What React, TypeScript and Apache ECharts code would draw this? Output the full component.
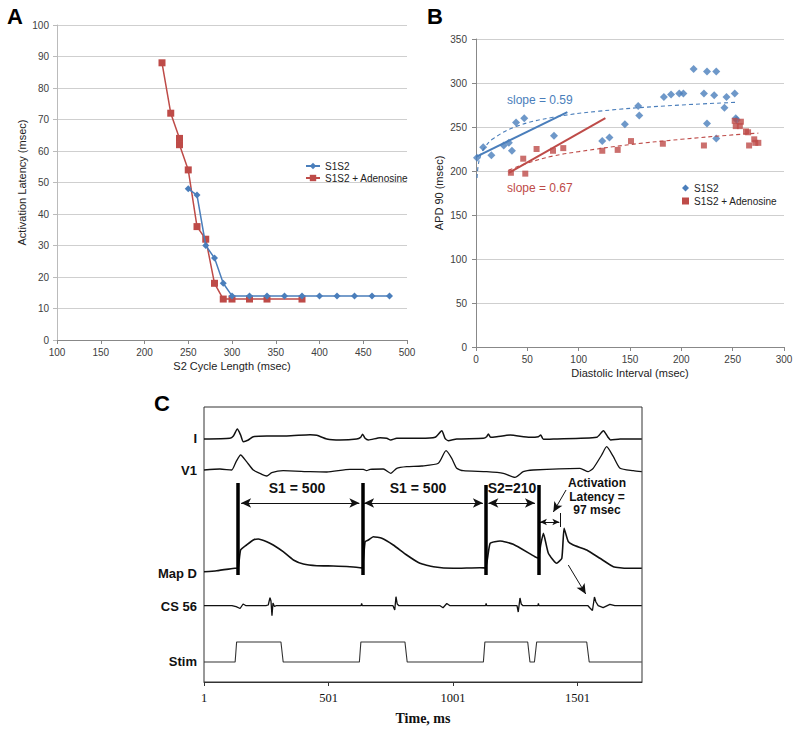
import React, { useEffect, useRef } from "react";
import * as echarts from "echarts";

// ---------- Panel A ----------
const s1s2CycleLength = [250, 260, 270, 280, 290, 300, 320, 340, 360, 380, 400, 420, 440, 460, 480];
const s1s2Latency = [48, 46, 30, 26, 18, 14, 14, 14, 14, 14, 14, 14, 14, 14, 14];
const adenoCycleLength = [220, 230, 240, 240, 250, 260, 270, 280, 290, 300, 320, 340, 380];
const adenoLatency = [88, 72, 64, 62, 54, 36, 32, 18, 13, 13, 13, 13, 13];

// ---------- Panel B ----------
const s1s2DI = [1, 7, 15, 27, 32, 35, 39, 47, 76, 123, 130, 145, 158, 159, 183, 190, 198, 202, 212, 222, 225, 225, 232, 234, 234, 242, 244, 252, 253, 254];
const s1s2APD = [215, 227, 218, 229, 232, 223, 255, 260, 240, 234, 238, 253, 274, 263, 284, 287, 288, 288, 316, 288, 313, 254, 286, 313, 237, 272, 284, 288, 260, 258];
const adenoDI = [34, 46, 48, 59, 75, 85, 123, 138, 151, 182, 222, 252, 253, 257, 258, 263, 265, 266, 271, 272, 275];
const adenoAPD = [198, 214, 197, 225, 223, 226, 223, 224, 234, 231, 229, 257, 251, 251, 256, 245, 244, 229, 236, 232, 232];
const s1s2SlopeLine = [[0, 216], [89, 267]];
const adenoSlopeLine = [[32, 198], [126, 260]];
const s1s2Trend = [[1, 192], [2, 205], [4, 216], [8, 226], [17, 237], [40, 251], [75, 261], [120, 268], [185, 274], [253, 278]];
const adenoTrend = [[32, 201], [50, 209], [75, 217], [100, 222], [150, 230], [200, 236], [250, 241], [275, 243]];

// ---------- Panel C (time ms from first sample, trace level) ----------
const traceI = [[0, 243], [104, 243.7], [118, 246], [134, 253], [147, 247], [158, 240.3], [178, 242], [198, 245.3], [252, 246], [332, 246], [426, 247.3], [453, 246.7], [493, 243], [546, 242], [613, 243], [629, 244.7], [637, 247.7], [647, 243.7], [660, 242], [707, 244.3], [734, 243.7], [750, 242], [774, 243.7], [867, 243.7], [928, 244.7], [955, 251.3], [968, 243.7], [981, 241.3], [1015, 243], [1122, 243.7], [1135, 245.3], [1142, 248], [1151, 244.7], [1176, 245.3], [1229, 247], [1309, 244.7], [1343, 245.3], [1352, 247], [1363, 242.7], [1403, 243], [1577, 244.7], [1604, 251.3], [1621, 245.3], [1633, 242], [1671, 243], [1758, 243]];
const traceV1 = [[0, 212], [64, 213], [111, 212], [129, 220.3], [147, 227], [171, 220.3], [198, 212], [232, 207.7], [252, 206], [272, 209.3], [318, 211.3], [426, 210.3], [493, 210], [586, 212.7], [640, 212.7], [653, 211.3], [667, 212.7], [720, 213], [750, 208.7], [774, 213.7], [814, 215.3], [874, 216], [941, 218.7], [972, 231.3], [995, 223.7], [1015, 213.7], [1041, 211.3], [1135, 210.3], [1202, 208.7], [1249, 204.7], [1282, 210.3], [1322, 212], [1510, 213.7], [1543, 210.3], [1563, 213.7], [1597, 227], [1617, 235.3], [1644, 225.3], [1671, 213.7], [1724, 211.3], [1758, 210.3]];
const traceMapD = [[0, 110.3], [51, 111.3], [124, 113.7], [137, 114], [147, 132], [171, 137], [198, 142], [218, 143], [252, 140.3], [278, 137], [318, 130.3], [359, 122], [399, 118], [453, 116.3], [519, 116], [586, 115.3], [627, 114.3], [636, 114], [647, 140.3], [660, 142], [680, 145.3], [714, 143.7], [760, 137], [814, 127], [867, 118.7], [921, 115.3], [1001, 113.7], [1108, 114.3], [1131, 114], [1149, 138.7], [1189, 141], [1242, 137.7], [1329, 125.3], [1343, 124], [1352, 137], [1363, 148.7], [1383, 128.7], [1416, 118.7], [1437, 123.7], [1446, 153.7], [1463, 140.3], [1483, 137], [1537, 132], [1590, 123.7], [1644, 115.3], [1698, 113.7], [1758, 113.7]];
const traceCS56 = [[0, 76.3], [112, 76.3], [129, 75.3], [145, 73.5], [157, 78], [169, 76.3], [249, 76.3], [258, 77], [265, 84.3], [269, 81], [273, 66.3], [277, 79], [283, 75.5], [289, 76.3], [631, 76.3], [633, 78.5], [636, 76.3], [759, 76.3], [766, 72], [771, 85.3], [776, 78], [783, 76.3], [948, 76.3], [960, 74.3], [975, 78.5], [988, 76.3], [1131, 76.3], [1133, 78.5], [1135, 76.3], [1257, 76.3], [1262, 70], [1269, 84], [1274, 78], [1281, 76.3], [1341, 76.3], [1343, 78.5], [1345, 76.3], [1542, 76.3], [1550, 74], [1560, 71.5], [1568, 85], [1574, 80], [1583, 76.3], [1603, 74.3], [1630, 77.7], [1650, 76.3], [1758, 76.3]];
const traceStim = [[0, 20], [125, 20], [131, 40], [309, 40], [318, 20], [624, 20], [630, 40], [807, 40], [816, 20], [1122, 20], [1128, 40], [1300, 40], [1309, 20], [1327, 20], [1336, 40], [1537, 40], [1547, 20], [1758, 20]];
const artifactTimes = [137, 636, 1131, 1343];
const artifactTops = [199, 199, 197, 197];
const artifactBottom = 107;
const cTickLabels = ["1", "501", "1001", "1501"];

const SANS = '"Liberation Sans", Arial, sans-serif';
const SERIF = '"Liberation Serif", "Times New Roman", serif';
const BLUE = "#4A7EBB";
const RED = "#BE4B48";

function zip(xs: number[], ys: number[]) {
  return xs.map((x, i) => [x, ys[i]]);
}

export default function App() {
  const ref = useRef<HTMLDivElement>(null);
  useEffect(() => {
    if (!ref.current) return;
    const chart = echarts.init(ref.current, undefined, { renderer: "svg" });
    const tickLbl = { fontFamily: SANS, fontSize: 10, color: "#404040" };
    const axisName = { fontFamily: SANS, fontSize: 11, color: "#222" };
    const arrow = (a: number[], b: number[], both: boolean, size?: number[]) => [
      { coord: a, symbol: both ? "arrow" : "none", symbolSize: size || [7, 10] },
      { coord: b, symbol: "arrow", symbolSize: size || [7, 10] },
    ];
    const option: any = {
      animation: false,
      textStyle: { fontFamily: SANS },
      grid: [
        { left: 57, top: 25, width: 350, height: 315 },
        { left: 476, top: 39, width: 308, height: 308 },
        { left: 204, top: 407, width: 438, height: 275, show: true, borderColor: "#333", borderWidth: 1, backgroundColor: "transparent" },
      ],
      xAxis: [
        {
          type: "value", gridIndex: 0, min: 100, max: 500, interval: 50,
          name: "S2 Cycle Length (msec)", nameLocation: "middle", nameGap: 20, nameTextStyle: axisName,
          axisLine: { show: true, lineStyle: { color: "#888" } },
          axisTick: { show: true, length: 4, lineStyle: { color: "#888" } },
          axisLabel: { ...tickLbl, margin: 7 }, splitLine: { show: false },
        },
        {
          type: "value", gridIndex: 1, min: 0, max: 300, interval: 50,
          name: "Diastolic Interval (msec)", nameLocation: "middle", nameGap: 20, nameTextStyle: axisName,
          axisLine: { show: true, lineStyle: { color: "#888" } },
          axisTick: { show: true, length: 4, lineStyle: { color: "#888" } },
          axisLabel: { ...tickLbl, margin: 7 }, splitLine: { show: false },
        },
        {
          type: "value", gridIndex: 2, min: 0, max: 1759, interval: 500,
          name: "Time, ms", nameLocation: "middle", nameGap: 29,
          nameTextStyle: { fontFamily: SERIF, fontSize: 14, fontWeight: "bold", color: "#111" },
          axisLine: { show: true, lineStyle: { color: "#333" } },
          axisTick: { show: true, length: 4, lineStyle: { color: "#333" } },
          axisLabel: {
            fontFamily: SERIF, fontSize: 12.5, color: "#111", margin: 9, showMaxLabel: false,
            formatter: (v: number) => cTickLabels[Math.round(v / 500)] ?? "",
          },
          splitLine: { show: false },
        },
      ],
      yAxis: [
        {
          type: "value", gridIndex: 0, min: 0, max: 100, interval: 10,
          name: "Activation Latency (msec)", nameLocation: "middle", nameGap: 30, nameTextStyle: axisName,
          axisLine: { show: true, lineStyle: { color: "#bbb" } },
          axisTick: { show: true, length: 4, lineStyle: { color: "#bbb" } },
          axisLabel: { ...tickLbl, margin: 8 },
          splitLine: { show: true, lineStyle: { color: "#cfcfcf" } },
        },
        {
          type: "value", gridIndex: 1, min: 0, max: 350, interval: 50,
          name: "APD 90 (msec)", nameLocation: "middle", nameGap: 32, nameTextStyle: axisName,
          axisLine: { show: true, lineStyle: { color: "#888" } },
          axisTick: { show: true, length: 4, lineStyle: { color: "#888" } },
          axisLabel: { ...tickLbl, margin: 9 },
          splitLine: { show: true, lineStyle: { color: "#cfcfcf" } },
        },
        { type: "value", gridIndex: 2, min: 0, max: 275, show: false },
      ],
      legend: [
        {
          left: 300, top: 156, orient: "vertical", itemWidth: 14, itemHeight: 8, itemGap: 2,
          textStyle: { fontFamily: SANS, fontSize: 10, color: "#222" },
          data: ["S1S2", "S1S2 + Adenosine"], selectedMode: false,
        },
        {
          left: 677, top: 178, orient: "vertical", itemWidth: 7, itemHeight: 7, itemGap: 3,
          textStyle: { fontFamily: SANS, fontSize: 10, color: "#222" },
          data: [
            { name: "S1S2", icon: "diamond", itemStyle: { color: BLUE } },
            { name: "S1S2 + Adenosine", icon: "rect", itemStyle: { color: RED } },
          ],
          selectedMode: false,
        },
      ],
      series: [
        {
          name: "S1S2", type: "line", xAxisIndex: 0, yAxisIndex: 0,
          data: zip(s1s2CycleLength, s1s2Latency), symbol: "diamond", symbolSize: 7,
          itemStyle: { color: BLUE }, lineStyle: { color: BLUE, width: 1.5 }, z: 3,
        },
        {
          name: "S1S2 + Adenosine", type: "line", xAxisIndex: 0, yAxisIndex: 0,
          data: zip(adenoCycleLength, adenoLatency), symbol: "rect", symbolSize: 7,
          itemStyle: { color: RED }, lineStyle: { color: RED, width: 1.5 }, z: 2,
        },
        {
          name: "S1S2", type: "scatter", xAxisIndex: 1, yAxisIndex: 1,
          data: zip(s1s2DI, s1s2APD), symbol: "diamond", symbolSize: 8, itemStyle: { color: BLUE },
        },
        {
          name: "S1S2 + Adenosine", type: "scatter", xAxisIndex: 1, yAxisIndex: 1,
          data: zip(adenoDI, adenoAPD), symbol: "rect", symbolSize: 6, itemStyle: { color: RED },
        },
        {
          name: "s1s2-slope", type: "line", xAxisIndex: 1, yAxisIndex: 1, data: s1s2SlopeLine,
          showSymbol: false, lineStyle: { color: BLUE, width: 2 },
        },
        {
          name: "adeno-slope", type: "line", xAxisIndex: 1, yAxisIndex: 1, data: adenoSlopeLine,
          showSymbol: false, lineStyle: { color: RED, width: 2 },
        },
        {
          name: "s1s2-trend", type: "line", xAxisIndex: 1, yAxisIndex: 1, data: s1s2Trend, smooth: 0.4,
          showSymbol: false, lineStyle: { color: BLUE, width: 1.1, type: [4, 3] },
        },
        {
          name: "adeno-trend", type: "line", xAxisIndex: 1, yAxisIndex: 1, data: adenoTrend, smooth: 0.4,
          showSymbol: false, lineStyle: { color: RED, width: 1.1, type: [4, 3] },
        },
        {
          name: "I", type: "line", xAxisIndex: 2, yAxisIndex: 2, data: traceI, smooth: 0.2,
          showSymbol: false, lineStyle: { color: "#111", width: 1.5 },
          markLine: {
            silent: true, label: { show: false }, lineStyle: { color: "#111", width: 1, type: "solid" },
            data: [
              arrow([149, 179], [624, 179], true),
              arrow([643, 179], [1120, 179], true),
              arrow([1142, 179], [1329, 179], true),
              arrow([1349, 160], [1427, 160], true, [5, 7]),
              [{ coord: [1432, 169], symbol: "none" }, { coord: [1432, 155], symbol: "none" }],
              arrow([1454, 192], [1403, 170], false),
              arrow([1463, 117], [1533, 88], false),
            ],
          },
        },
        {
          name: "V1", type: "line", xAxisIndex: 2, yAxisIndex: 2, data: traceV1, smooth: 0.2,
          showSymbol: false, lineStyle: { color: "#111", width: 1.3 },
        },
        {
          name: "Map D", type: "line", xAxisIndex: 2, yAxisIndex: 2, data: traceMapD, smooth: 0.15,
          showSymbol: false, lineStyle: { color: "#111", width: 1.6 },
          markLine: {
            silent: true, label: { show: false }, symbol: "none",
            lineStyle: { color: "#000", width: 3.5, type: "solid" },
            data: artifactTimes.map((t, i) => [
              { coord: [t, artifactTops[i]] },
              { coord: [t, artifactBottom] },
            ]),
          },
        },
        {
          name: "CS 56", type: "line", xAxisIndex: 2, yAxisIndex: 2, data: traceCS56,
          showSymbol: false, lineStyle: { color: "#111", width: 1.3 },
        },
        {
          name: "Stim", type: "line", xAxisIndex: 2, yAxisIndex: 2, data: traceStim,
          showSymbol: false, lineStyle: { color: "#333", width: 1.1 },
        },
      ],
      graphic: [
        { type: "text", x: 15, y: 16, style: { text: "A", fontFamily: SANS, fontSize: 22, fontWeight: "bold", fill: "#000", align: "center", verticalAlign: "middle" } },
        { type: "text", x: 435, y: 16, style: { text: "B", fontFamily: SANS, fontSize: 22, fontWeight: "bold", fill: "#000", align: "center", verticalAlign: "middle" } },
        { type: "text", x: 162, y: 403, style: { text: "C", fontFamily: SANS, fontSize: 22, fontWeight: "bold", fill: "#000", align: "center", verticalAlign: "middle" } },
        { type: "text", x: 507, y: 100, style: { text: "slope = 0.59", fontFamily: SANS, fontSize: 12, fill: BLUE, align: "left", verticalAlign: "middle" } },
        { type: "text", x: 507, y: 188, style: { text: "slope = 0.67", fontFamily: SANS, fontSize: 12, fill: RED, align: "left", verticalAlign: "middle" } },
        ...[["I", 438], ["V1", 470], ["Map D", 573], ["CS 56", 606], ["Stim", 661]].map(([t, y]) => ({
          type: "text", x: 197, y, style: { text: t, fontFamily: SANS, fontSize: 13, fontWeight: "bold", fill: "#111", align: "right", verticalAlign: "middle" },
        })),
        ...[["S1 = 500", 297], ["S1 = 500", 418], ["S2=210", 512]].map(([t, x]) => ({
          type: "text", x, y: 488, style: { text: t, fontFamily: SANS, fontSize: 14, fontWeight: "bold", fill: "#111", align: "center", verticalAlign: "middle" },
        })),
        ...[["Activation", 483], ["Latency =", 497], ["97 msec", 510]].map(([t, y]) => ({
          type: "text", x: 597, y, style: { text: t, fontFamily: SANS, fontSize: 12, fontWeight: "bold", fill: "#111", align: "center", verticalAlign: "middle" },
        })),
      ],
    };
    chart.setOption(option);
    return () => chart.dispose();
  }, []);
  return (
    <div
      ref={ref}
      style={{ position: "fixed", left: 0, top: 0, width: 800, height: 732, background: "#fff" }}
    />
  );
}
